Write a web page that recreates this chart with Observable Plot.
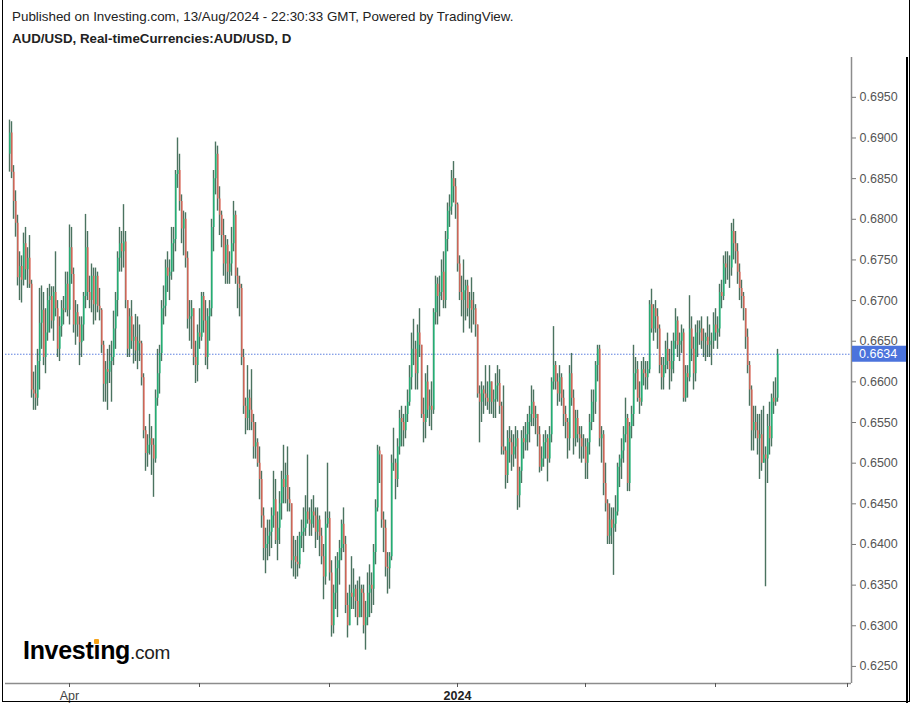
<!DOCTYPE html>
<html>
<head>
<meta charset="utf-8">
<script src="https://cdn.jsdelivr.net/npm/d3@7"></script>
<script src="https://cdn.jsdelivr.net/npm/@observablehq/plot@0.6"></script>
<style>
html,body{margin:0;padding:0;background:#fff;}
#page{position:relative;width:914px;height:708px;overflow:hidden;font-family:"Liberation Sans",Arial,sans-serif;background:#fff;}
#border{position:absolute;left:2px;top:0px;width:906px;height:701px;border:1.5px solid #000;border-top:none;box-sizing:content-box;pointer-events:none;}
#innerRight{position:absolute;left:906px;top:57px;width:1.5px;height:646px;background:#000;}
#h1{position:absolute;left:12px;top:9px;font-size:13.4px;color:#222;white-space:nowrap;}
#h2{position:absolute;left:12px;top:31px;font-size:13.3px;font-weight:bold;color:#222;white-space:nowrap;}
#chart{position:absolute;left:0;top:57px;}
#logo{position:absolute;left:23px;top:636px;white-space:nowrap;color:#000;}
#logo .inv{font-size:25px;font-weight:bold;letter-spacing:-0.3px;font-family:"Liberation Sans",Arial,sans-serif;}
#logo .ii{position:relative;}
#logo .dot{position:absolute;left:50%;top:3px;width:5px;height:5px;margin-left:-2.5px;background:#f5a31a;border-radius:1px;}
#logo .com{font-size:19px;color:#222;letter-spacing:-0.3px;}
</style>
</head>
<body>
<div id="page">
  <div id="h1">Published on Investing.com, 13/Aug/2024 - 22:30:33 GMT, Powered by TradingView.</div>
  <div id="h2">AUD/USD, Real-timeCurrencies:AUD/USD, D</div>
  <div id="chart"></div>
  <div id="logo"><span class="inv">Invest<span class="ii">ı<span class="dot"></span></span>ng</span><span class="com">.com</span></div>
  <div id="innerRight"></div>
  <div id="border"></div>
</div>
<script>
// Daily candles, AUD/USD, first candle Mon 20 Feb 2023 (index -30); index 0 = Mon 3 Apr 2023.
// Weekdays only (25 Dec 2023 and 1 Jan 2024 not traded). One row per week.
const firstIndex = -30;
const firstOpen = 0.6880;

const highs = [
 0.6922,0.6920,0.6866,0.6835,0.6805,
 0.6760,0.6755,0.6783,0.6790,0.6765,
 0.6780,0.6725,0.6612,0.6620,0.6640,
 0.6715,0.6718,0.6710,0.6690,0.6715,
 0.6720,0.6717,0.6717,0.6760,0.6700,
 0.6680,0.6700,0.6705,0.6735,0.6735,
 0.6793,0.6790,0.6740,0.6700,0.6695,
 0.6680,0.6680,0.6710,0.6806,0.6785,
 0.6730,0.6745,0.6740,0.6740,0.6735,
 0.6715,0.6690,0.6650,0.6625,0.6640,
 0.6645,0.6650,0.6687,0.6710,0.6760,
 0.6790,0.6785,0.6818,0.6785,0.6700,
 0.6690,0.6700,0.6670,0.6683,0.6680,
 0.6670,0.6650,0.6610,0.6545,0.6535,
 0.6560,0.6545,0.6530,0.6590,0.6640,
 0.6645,0.6700,0.6718,0.6750,0.6760,
 0.6750,0.6790,0.6790,0.6860,0.6900,
 0.6880,0.6830,0.6810,0.6808,0.6760,
 0.6700,0.6700,0.6690,0.6650,0.6670,
 0.6690,0.6710,0.6710,0.6700,0.6690,
 0.6700,0.6800,0.6860,0.6895,0.6890,
 0.6840,0.6810,0.6800,0.6780,0.6775,
 0.6760,0.6790,0.6822,0.6810,0.6740,
 0.6730,0.6720,0.6640,0.6580,0.6620,
 0.6590,0.6615,0.6560,0.6550,0.6530,
 0.6520,0.6490,0.6445,0.6420,0.6430,
 0.6430,0.6445,0.6490,0.6480,0.6440,
 0.6465,0.6490,0.6522,0.6500,0.6520,
 0.6470,0.6450,0.6410,0.6405,0.6410,
 0.6415,0.6430,0.6445,0.6460,0.6510,
 0.6445,0.6455,0.6460,0.6445,0.6445,
 0.6435,0.6420,0.6400,0.6440,0.6500,
 0.6440,0.6380,0.6350,0.6385,0.6390,
 0.6405,0.6430,0.6445,0.6410,0.6340,
 0.6350,0.6385,0.6370,0.6350,0.6355,
 0.6360,0.6350,0.6350,0.6330,0.6365,
 0.6375,0.6365,0.6400,0.6455,0.6522,
 0.6520,0.6510,0.6440,0.6430,0.6390,
 0.6390,0.6510,0.6543,0.6505,0.6530,
 0.6565,0.6570,0.6560,0.6570,0.6590,
 0.6620,0.6660,0.6677,0.6650,0.6670,
 0.6690,0.6645,0.6580,0.6610,0.6620,
 0.6590,0.6600,0.6690,0.6730,0.6728,
 0.6730,0.6750,0.6760,0.6785,0.6820,
 0.6830,0.6860,0.6871,0.6850,
 0.6820,0.6755,0.6730,0.6750,
 0.6725,0.6725,0.6710,0.6728,0.6710,
 0.6695,0.6670,0.6595,0.6600,0.6595,
 0.6620,0.6600,0.6620,0.6600,0.6590,
 0.6610,0.6620,0.6615,0.6575,0.6595,
 0.6520,0.6540,0.6545,0.6540,0.6535,
 0.6545,0.6540,0.6495,0.6540,0.6545,
 0.6550,0.6560,0.6570,0.6595,0.6590,
 0.6570,0.6560,0.6545,0.6520,0.6535,
 0.6540,0.6535,0.6545,0.6605,0.6668,
 0.6625,0.6610,0.6620,0.6610,0.6590,
 0.6570,0.6555,0.6620,0.6635,0.6590,
 0.6565,0.6565,0.6545,0.6545,0.6535,
 0.6530,0.6530,0.6560,0.6590,0.6590,
 0.6625,0.6645,0.6645,0.6545,0.6540,
 0.6500,0.6455,0.6450,0.6445,0.6445,
 0.6460,0.6500,0.6510,0.6530,0.6545,
 0.6580,0.6560,0.6550,0.6570,0.6645,
 0.6630,0.6625,0.6600,0.6625,0.6630,
 0.6625,0.6625,0.6700,0.6714,0.6695,
 0.6700,0.6690,0.6670,0.6630,0.6630,
 0.6650,0.6660,0.6640,0.6650,0.6660,
 0.6690,0.6680,0.6660,0.6670,0.6665,
 0.6620,0.6620,0.6706,0.6680,0.6655,
 0.6670,0.6675,0.6675,0.6680,0.6665,
 0.6660,0.6680,0.6670,0.6660,0.6685,
 0.6690,0.6680,0.6720,0.6725,0.6755,
 0.6760,0.6760,0.6755,0.6795,0.6800,
 0.6785,0.6770,0.6745,0.6725,0.6710,
 0.6690,0.6665,0.6625,0.6595,0.6570,
 0.6570,0.6560,0.6560,0.6565,0.6570,
 0.6520,0.6560,0.6575,0.6585,0.6600,
 0.6605,0.6640
];

const lows = [
 0.6858,0.6850,0.6800,0.6778,0.6718,
 0.6700,0.6697,0.6718,0.6725,0.6715,
 0.6715,0.6580,0.6565,0.6565,0.6570,
 0.6590,0.6640,0.6620,0.6610,0.6650,
 0.6660,0.6665,0.6650,0.6680,0.6630,
 0.6625,0.6655,0.6670,0.6685,0.6680,
 0.6670,0.6720,0.6660,0.6645,0.6655,
 0.6620,0.6630,0.6650,0.6690,0.6700,
 0.6690,0.6685,0.6670,0.6675,0.6685,
 0.6675,0.6635,0.6575,0.6575,0.6565,
 0.6598,0.6575,0.6620,0.6640,0.6680,
 0.6735,0.6735,0.6740,0.6690,0.6630,
 0.6630,0.6640,0.6622,0.6625,0.6615,
 0.6625,0.6595,0.6530,0.6490,0.6495,
 0.6510,0.6485,0.6458,0.6500,0.6570,
 0.6585,0.6625,0.6670,0.6680,0.6710,
 0.6700,0.6725,0.6735,0.6760,0.6838,
 0.6810,0.6770,0.6755,0.6740,0.6665,
 0.6650,0.6640,0.6620,0.6598,0.6600,
 0.6640,0.6650,0.6660,0.6620,0.6615,
 0.6650,0.6680,0.6760,0.6830,0.6810,
 0.6780,0.6765,0.6730,0.6720,0.6720,
 0.6720,0.6730,0.6760,0.6720,0.6690,
 0.6680,0.6620,0.6560,0.6535,0.6540,
 0.6540,0.6540,0.6505,0.6505,0.6495,
 0.6455,0.6420,0.6380,0.6364,0.6380,
 0.6385,0.6395,0.6420,0.6400,0.6380,
 0.6400,0.6430,0.6450,0.6450,0.6440,
 0.6440,0.6370,0.6360,0.6357,0.6360,
 0.6370,0.6395,0.6390,0.6410,0.6425,
 0.6410,0.6410,0.6420,0.6395,0.6405,
 0.6385,0.6375,0.6332,0.6350,0.6420,
 0.6355,0.6286,0.6290,0.6320,0.6310,
 0.6350,0.6380,0.6390,0.6315,0.6285,
 0.6300,0.6320,0.6320,0.6310,0.6300,
 0.6310,0.6310,0.6290,0.6270,0.6300,
 0.6310,0.6315,0.6325,0.6375,0.6440,
 0.6475,0.6420,0.6390,0.6360,0.6339,
 0.6345,0.6380,0.6490,0.6455,0.6470,
 0.6510,0.6520,0.6520,0.6530,0.6550,
 0.6570,0.6590,0.6620,0.6590,0.6590,
 0.6630,0.6555,0.6525,0.6530,0.6555,
 0.6545,0.6540,0.6560,0.6670,0.6670,
 0.6680,0.6700,0.6690,0.6690,0.6760,
 0.6790,0.6805,0.6820,0.6800,
 0.6735,0.6700,0.6680,0.6660,
 0.6675,0.6680,0.6665,0.6660,0.6670,
 0.6655,0.6580,0.6525,0.6550,0.6560,
 0.6570,0.6565,0.6560,0.6560,0.6555,
 0.6555,0.6575,0.6560,0.6510,0.6510,
 0.6468,0.6475,0.6500,0.6490,0.6495,
 0.6505,0.6442,0.6445,0.6475,0.6505,
 0.6515,0.6515,0.6525,0.6545,0.6545,
 0.6535,0.6520,0.6488,0.6490,0.6495,
 0.6505,0.6477,0.6500,0.6525,0.6590,
 0.6590,0.6570,0.6575,0.6570,0.6545,
 0.6530,0.6505,0.6515,0.6570,0.6510,
 0.6520,0.6525,0.6505,0.6500,0.6505,
 0.6480,0.6480,0.6510,0.6540,0.6550,
 0.6560,0.6600,0.6520,0.6500,0.6460,
 0.6440,0.6400,0.6400,0.6400,0.6362,
 0.6415,0.6435,0.6470,0.6480,0.6500,
 0.6525,0.6465,0.6465,0.6530,0.6545,
 0.6590,0.6575,0.6560,0.6570,0.6595,
 0.6590,0.6590,0.6610,0.6660,0.6650,
 0.6660,0.6640,0.6610,0.6590,0.6590,
 0.6610,0.6615,0.6590,0.6600,0.6610,
 0.6640,0.6630,0.6625,0.6635,0.6575,
 0.6575,0.6580,0.6600,0.6625,0.6590,
 0.6600,0.6630,0.6645,0.6640,0.6630,
 0.6625,0.6630,0.6630,0.6620,0.6640,
 0.6650,0.6640,0.6655,0.6690,0.6700,
 0.6720,0.6725,0.6715,0.6730,0.6750,
 0.6745,0.6720,0.6700,0.6690,0.6675,
 0.6640,0.6610,0.6570,0.6515,0.6515,
 0.6530,0.6510,0.6480,0.6490,0.6500,
 0.6348,0.6475,0.6510,0.6520,0.6560,
 0.6570,0.6575
];

const closes = [
 0.6906,0.6858,0.6822,0.6795,0.6728,
 0.6742,0.6725,0.6770,0.6738,0.6752,
 0.6720,0.6590,0.6585,0.6580,0.6625,
 0.6672,0.6688,0.6630,0.6660,0.6700,
 0.6705,0.6675,0.6710,0.6690,0.6640,
 0.6668,0.6690,0.6688,0.6720,0.6688,
 0.6765,0.6732,0.6670,0.6685,0.6670,
 0.6648,0.6670,0.6705,0.6765,0.6710,
 0.6700,0.6730,0.6695,0.6730,0.6693,
 0.6688,0.6645,0.6597,0.6615,0.6612,
 0.6625,0.6630,0.6665,0.6700,0.6752,
 0.6770,0.6760,0.6772,0.6700,0.6640,
 0.6680,0.6650,0.6655,0.6638,0.6650,
 0.6647,0.6605,0.6540,0.6512,0.6522,
 0.6530,0.6522,0.6505,0.6580,0.6610,
 0.6635,0.6690,0.6693,0.6740,0.6730,
 0.6735,0.6770,0.6775,0.6855,0.6860,
 0.6822,0.6788,0.6800,0.6752,0.6677,
 0.6680,0.6690,0.6630,0.6620,0.6660,
 0.6655,0.6705,0.6675,0.6630,0.6680,
 0.6690,0.6790,0.6850,0.6880,0.6825,
 0.6805,0.6780,0.6745,0.6768,0.6735,
 0.6745,0.6770,0.6805,0.6730,0.6720,
 0.6715,0.6630,0.6570,0.6555,0.6580,
 0.6565,0.6550,0.6520,0.6525,0.6500,
 0.6480,0.6435,0.6395,0.6400,0.6410,
 0.6415,0.6435,0.6455,0.6405,0.6420,
 0.6450,0.6480,0.6470,0.6485,0.6455,
 0.6450,0.6380,0.6385,0.6378,0.6375,
 0.6410,0.6415,0.6420,0.6440,0.6430,
 0.6425,0.6440,0.6435,0.6415,0.6430,
 0.6410,0.6385,0.6360,0.6425,0.6432,
 0.6365,0.6300,0.6340,0.6370,0.6380,
 0.6395,0.6425,0.6400,0.6325,0.6300,
 0.6340,0.6335,0.6345,0.6330,0.6310,
 0.6345,0.6340,0.6300,0.6310,0.6340,
 0.6350,0.6345,0.6390,0.6445,0.6515,
 0.6510,0.6430,0.6420,0.6372,0.6370,
 0.6385,0.6500,0.6500,0.6480,0.6520,
 0.6555,0.6550,0.6540,0.6560,0.6575,
 0.6605,0.6640,0.6640,0.6610,0.6660,
 0.6645,0.6560,0.6550,0.6600,0.6565,
 0.6570,0.6565,0.6685,0.6720,0.6705,
 0.6710,0.6735,0.6700,0.6775,0.6810,
 0.6815,0.6850,0.6840,0.6818,
 0.6745,0.6710,0.6700,0.6712,
 0.6718,0.6690,0.6700,0.6688,0.6690,
 0.6670,0.6585,0.6575,0.6590,0.6585,
 0.6580,0.6575,0.6600,0.6575,0.6578,
 0.6595,0.6598,0.6570,0.6520,0.6515,
 0.6485,0.6530,0.6525,0.6510,0.6520,
 0.6530,0.6460,0.6490,0.6530,0.6525,
 0.6535,0.6550,0.6560,0.6575,0.6555,
 0.6560,0.6535,0.6495,0.6505,0.6525,
 0.6530,0.6505,0.6535,0.6600,0.6620,
 0.6600,0.6585,0.6605,0.6580,0.6560,
 0.6550,0.6530,0.6610,0.6580,0.6530,
 0.6555,0.6535,0.6530,0.6520,0.6520,
 0.6500,0.6525,0.6550,0.6575,0.6575,
 0.6620,0.6640,0.6530,0.6535,0.6475,
 0.6450,0.6410,0.6430,0.6420,0.6425,
 0.6440,0.6495,0.6505,0.6515,0.6535,
 0.6555,0.6475,0.6545,0.6560,0.6610,
 0.6615,0.6580,0.6575,0.6615,0.6610,
 0.6605,0.6615,0.6695,0.6665,0.6690,
 0.6680,0.6665,0.6620,0.6605,0.6620,
 0.6640,0.6625,0.6615,0.6625,0.6650,
 0.6675,0.6645,0.6650,0.6660,0.6580,
 0.6610,0.6605,0.6665,0.6640,0.6610,
 0.6660,0.6660,0.6665,0.6650,0.6650,
 0.6655,0.6645,0.6650,0.6650,0.6670,
 0.6660,0.6665,0.6710,0.6705,0.6745,
 0.6740,0.6740,0.6740,0.6785,0.6770,
 0.6760,0.6735,0.6715,0.6705,0.6690,
 0.6655,0.6620,0.6590,0.6540,0.6550,
 0.6540,0.6530,0.6535,0.6500,0.6510,
 0.6505,0.6545,0.6530,0.6580,0.6575,
 0.6580,0.6634
];

// Axis: price ticks and quarter ticks (candle index of first trading day of the quarter)
const priceTicks = [0.6250,0.6300,0.6350,0.6400,0.6450,0.6500,0.6550,0.6600,0.6650,0.6700,0.6750,0.6800,0.6850,0.6900,0.6950];
const quarterTickIndex = [0, 65, 130, 194, 258, 323, 389];
const quarterTickLabel = ["Apr", "", "", "2024", "", "", ""];
const quarterTickBold = [false, false, false, true, false, false, false];

const upColor = "#1cbc7a";
const downColor = "#ee6558";
const wickColor = "#2c5a44";
const lastColor = "#4b73dc";

const candles = closes.map((c, k) => ({
  i: firstIndex + k,
  open: k === 0 ? firstOpen : closes[k - 1],
  high: highs[k],
  low: lows[k],
  close: c
}));
if (highs.length !== closes.length || lows.length !== closes.length) console.error("length mismatch", highs.length, lows.length, closes.length);
const last = candles[candles.length - 1].close;

const ticksData = quarterTickIndex.map((t, k) => ({t, label: quarterTickLabel[k], bold: quarterTickBold[k]}));

const plot = Plot.plot({
  width: 914,
  height: 651,
  marginLeft: 5,
  marginRight: 63,
  marginTop: 0,
  marginBottom: 25,
  x: {domain: [-32, 391], axis: null},
  y: {domain: [0.6229, 0.6999], axis: null},
  style: {fontFamily: "'Liberation Sans', Arial, sans-serif", fontSize: "12px", color: "#555", background: "transparent", overflow: "visible"},
  marks: [
    Plot.ruleY([last], {stroke: lastColor, strokeWidth: 1, strokeDasharray: "1.5,1.5", strokeOpacity: 0.9}),
    Plot.ruleX(candles, {x: "i", y1: "low", y2: "high", stroke: wickColor, strokeWidth: 1.4, strokeOpacity: 0.85}),
    Plot.ruleX(candles.filter(d => d.close >= d.open), {x: "i", y1: "open", y2: "close", stroke: upColor, strokeWidth: 1.3, dx: 0.4}),
    Plot.ruleX(candles.filter(d => d.close < d.open), {x: "i", y1: "open", y2: "close", stroke: downColor, strokeWidth: 1.3, dx: 0.4}),
    Plot.ruleX([391], {stroke: "#8c8c8c", strokeWidth: 1.5}),
    Plot.ruleY([0.6229], {stroke: "#8c8c8c", strokeWidth: 1.5}),
    Plot.axisY(priceTicks, {anchor: "right", tickFormat: d3.format(".4f"), tickSize: 4, tickPadding: 4, stroke: "#777", fill: "#555", fontSize: 12.5, label: null}),
    Plot.axisX(quarterTickIndex, {anchor: "bottom", tickFormat: () => "", tickSize: 4, stroke: "#555", label: null}),
    Plot.text(ticksData.filter(d => !d.bold), {x: "t", text: "label", frameAnchor: "bottom", dy: 12, lineAnchor: "middle", fill: "#444", fontSize: 12.5}),
    Plot.text(ticksData.filter(d => d.bold), {x: "t", text: "label", frameAnchor: "bottom", dy: 12, lineAnchor: "middle", fill: "#222", fontSize: 12.5, fontWeight: "bold"})
  ]
});

// Last-price label on the price axis, positioned with the plot's own scales
const ys = plot.scale("y");
const xs = plot.scale("x");
const yLast = ys.apply(last);
const xAxis = xs.apply(391);
const svg = d3.select(plot);
svg.append("rect").attr("x", xAxis + 1).attr("y", yLast - 8).attr("width", 55).attr("height", 16).attr("fill", lastColor);
svg.append("text").attr("x", xAxis + 8).attr("y", yLast).attr("dy", "0.36em").attr("fill", "#fff")
  .attr("text-anchor", "start").attr("font-size", 12.5)
  .attr("font-family", "'Liberation Sans', Arial, sans-serif").text(d3.format(".4f")(last));

document.getElementById("chart").appendChild(plot);
</script>
</body>
</html>
